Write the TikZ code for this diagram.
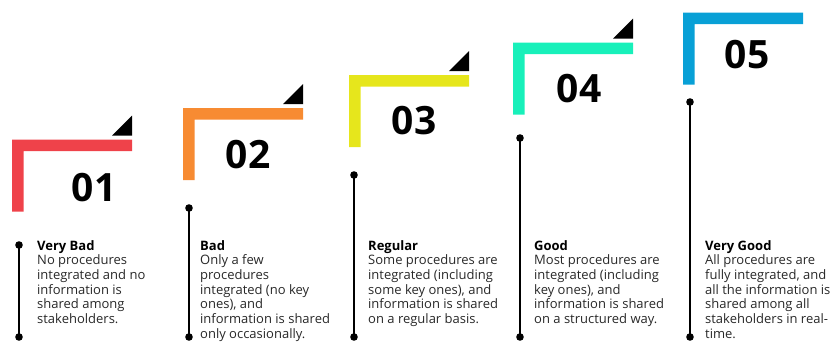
\documentclass[tikz,border=0pt]{standalone}
\usepackage{fontspec}
\setmainfont{Open Sans}
\definecolor{lvlred}{RGB}{239,66,74}
\definecolor{lvlorange}{RGB}{247,139,50}
\definecolor{lvlyellow}{RGB}{230,230,28}
\definecolor{lvlteal}{RGB}{24,240,186}
\definecolor{lvlblue}{RGB}{8,160,214}
\definecolor{bodygray}{RGB}{40,40,40}

\begin{document}
\begin{tikzpicture}[x=1pt,y=-1pt,
  num/.style={font=\fontsize{39}{39}\selectfont\bfseries,inner sep=0pt},
  desc/.style={anchor=north west,inner sep=0pt,align=left,text=bodygray,
    font=\fontsize{13}{14.7}\selectfont},
  stem/.style={line width=2.8pt}]
\useasboundingbox (0,0) rectangle (836,341);
% brackets with level numbers
\foreach \n/\c/\l/\t/\nx/\ny in {1/lvlred/12/139.5/94/188,2/lvlorange/183/108/248/154.5,
  3/lvlyellow/349/75/414/121,4/lvlteal/513/42.5/579/89,5/lvlblue/683/12.5/747/55}{
  \fill[\c] (\l,\t) -- ++(120,0) -- ++(0,11.5) -- ++(-108.5,0) -- ++(0,60.5) -- ++(-11.5,0) -- cycle;
  \node[num] (num\n) at (\nx,\ny) {0\n};
}
\foreach \l/\t in {12/139.5,183/108,349/75,513/42.5}
  \fill (\l+100,\t-4) -- ++(20,0) -- ++(0,-20) -- cycle;

% stems with dots
\foreach \n/\x/\y in {1/19/245,2/189/208,3/354/175,4/520/138,5/690/102}{
  \coordinate (top\n) at (\x,\y);
  \coordinate (bot\n) at (\x,337);
  \draw[stem] (top\n) -- (bot\n);
  \fill (top\n) circle (3.8) (bot\n) circle (3.8);
}

\node[desc] (txt1) at (37,240) {\textcolor{black}{\textbf{Very Bad}}\\No procedures\\integrated and no\\information is\\shared among\\stakeholders.};
\node[desc] (txt2) at (200,240) {\textcolor{black}{\textbf{Bad}}\\Only a few\\procedures\\integrated (no key\\ones), and\\information is shared\\only occasionally.};
\node[desc] (txt3) at (368,240) {\textcolor{black}{\textbf{Regular}}\\Some procedures are\\integrated (including\\some key ones), and\\information is shared\\on a regular basis.};
\node[desc] (txt4) at (534,240) {\textcolor{black}{\textbf{Good}}\\Most procedures are\\integrated (including\\key ones), and\\information is shared\\on a structured way.};
\node[desc] (txt5) at (705,240) {\textcolor{black}{\textbf{Very Good}}\\All procedures are\\fully integrated, and\\all the information is\\shared among all\\stakeholders in real-\\time.};
\end{tikzpicture}
\end{document}
